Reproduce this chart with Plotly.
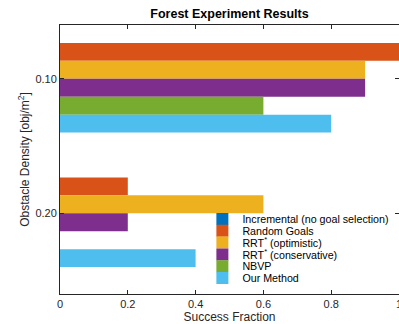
import plotly.graph_objects as go

categories = ["0.10", "0.20"]
cat_pos = [1, 2]
series_names = [
    "Incremental (no goal selection)",
    "Random Goals",
    "RRT<sup>*</sup> (optimistic)",
    "RRT<sup>*</sup> (conservative)",
    "NBVP",
    "Our Method",
]
incremental = [0.0, 0.0]
random_goals = [1.0, 0.2]
rrt_optimistic = [0.9, 0.6]
rrt_conservative = [0.9, 0.2]
nbvp = [0.6, 0.0]
our_method = [0.8, 0.4]
x_ticks = [0, 0.2, 0.4, 0.6, 0.8, 1]
x_ticklabels = ["0", "0.2", "0.4", "0.6", "0.8", "1"]

values = [incremental, random_goals, rrt_optimistic, rrt_conservative, nbvp, our_method]
colors = ["#0072BD", "#D95319", "#EDB120", "#7E2F8E", "#77AC30", "#4DBEEE"]

FONT = "Liberation Sans, Arial, Helvetica, sans-serif"
INK = "#262626"

fig = go.Figure()
legend_ids = ["legend", "legend2", "legend3", "legend4", "legend5", "legend6"]
for name, vals, col, lg in zip(series_names, values, colors, legend_ids):
    fig.add_trace(go.Bar(
        x=vals, y=cat_pos, orientation="h", name=name,
        marker=dict(color=col, line=dict(width=0)),
        legend=lg,
    ))

# plot area: top 25px, bottom 294px
top_px, bot_px = 25, 294
H = 324
legend_centers_px = [219, 230.8, 242.6, 254.4, 266.2, 278]
legend_layout = {}
for lg, cy in zip(legend_ids, legend_centers_px):
    legend_layout[lg] = dict(
        x=0.42, xanchor="left",
        y=(bot_px - cy) / (bot_px - top_px), yanchor="middle",
        bgcolor="rgba(0,0,0,0)", borderwidth=0,
        font=dict(family=FONT, size=10.7, color="#000000"),
        itemclick=False, itemdoubleclick=False,
    )

fig.update_layout(
    width=399, height=324,
    margin=dict(l=60, r=0, t=top_px, b=H - bot_px),
    paper_bgcolor="white", plot_bgcolor="white",
    barmode="group", bargap=0.2, bargroupgap=0,
    showlegend=True,
    title=dict(
        text="<b>Forest Experiment Results</b>",
        x=(60 + 399) / 2 / 399, xanchor="center",
        y=1 - 14 / 324, yanchor="middle",
        font=dict(family=FONT, size=12.5, color="#000000"),
    ),
    font=dict(family=FONT, size=11, color=INK),
    **legend_layout,
)

fig.update_xaxes(
    range=[0, 1], tickvals=x_ticks, ticktext=x_ticklabels,
    ticks="inside", ticklen=4, tickwidth=1, tickcolor=INK,
    showline=True, linecolor=INK, linewidth=1, mirror="ticks",
    showgrid=False, zeroline=False, ticklabeloverflow="allow",
    automargin=False,
    tickfont=dict(family=FONT, size=11, color=INK),
    title=dict(text="Success Fraction", font=dict(family=FONT, size=12, color=INK), standoff=4),
)
fig.update_yaxes(
    range=[2.6, 0.6], tickvals=cat_pos, ticktext=categories,
    ticks="inside", ticklen=4, tickwidth=1, tickcolor=INK,
    showline=True, linecolor=INK, linewidth=1, mirror="ticks",
    showgrid=False, zeroline=False, automargin=False,
    tickfont=dict(family=FONT, size=11, color=INK),
    title=dict(text="Obstacle Density [obj/m<sup>2</sup>]", font=dict(family=FONT, size=12, color=INK), standoff=3),
)

fig.write_html("out.html", config={"displayModeBar": False},
               post_script="document.body.style.margin='0';")
